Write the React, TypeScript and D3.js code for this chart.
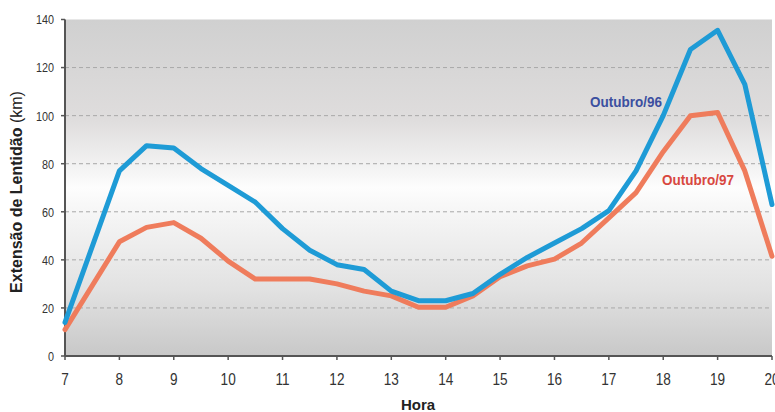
import React from "react";
import * as d3 from "d3";

// Hourly congestion length (km), sampled every half hour
const hours = [7, 8, 8.5, 9, 9.5, 10, 10.5, 11, 11.5, 12, 12.5, 13, 13.5, 14, 14.5, 15, 15.5, 16, 16.5, 17, 17.5, 18, 18.5, 19, 19.5, 20];
const outubro96 = [14, 77, 87.5, 86.5, 78, 71, 64, 53, 44, 38, 36, 27, 23, 23, 26, 34, 41, 47, 53, 60.5, 77, 100, 127.5, 135.5, 113, 63];
const outubro97 = [11, 47.5, 53.5, 55.5, 49, 39.5, 32, 32, 32, 30, 27, 25, 20.3, 20.3, 25, 33, 37.5, 40.3, 47, 57.5, 68, 85, 100, 101.3, 77, 41.5];
const xTicks = [7, 8, 9, 10, 11, 12, 13, 14, 15, 16, 17, 18, 19, 20];
const yTicks = [0, 20, 40, 60, 80, 100, 120, 140];
const gridValues = [20, 40, 60, 80, 100, 120];

const W = 775;
const H = 412;
const left = 65;
const right = 772;
const top = 19.5;
const bottom = 356;

const sans = "'Liberation Sans', Arial, sans-serif";

// Condensed text: regular sans squeezed horizontally around its anchor point
function NarrowText(props: {
  x: number;
  y: number;
  sx: number;
  size: number;
  anchor?: "start" | "middle" | "end";
  weight?: string;
  fill: string;
  dy?: string;
  children: React.ReactNode;
}) {
  const { x, y, sx, size, anchor = "start", weight = "normal", fill, dy, children } = props;
  return (
    <text
      transform={`translate(${x},${y}) scale(${sx},1)`}
      textAnchor={anchor}
      dy={dy}
      fontFamily={sans}
      fontSize={size}
      fontWeight={weight}
      fill={fill}
    >
      {children}
    </text>
  );
}

export default function App() {
  const x = d3.scaleLinear().domain([7, 20]).range([left, right]);
  const y = d3.scaleLinear().domain([0, 140]).range([bottom, top]);

  const line = d3
    .line<number>()
    .x((_, i) => x(hours[i]))
    .y((v) => y(v))
    .curve(d3.curveLinear);

  return (
    <svg
      width={W}
      height={H}
      style={{ position: "absolute", left: 0, top: 0, display: "block", background: "#ffffff" }}
    >
      <defs>
        <linearGradient id="plotBg" x1="0" y1="0" x2="0" y2="1">
          <stop offset="0%" stopColor="#d0d0d0" />
          <stop offset="30%" stopColor="#dfdddd" />
          <stop offset="46%" stopColor="#f6f6f6" />
          <stop offset="50%" stopColor="#fdfdfd" />
          <stop offset="56%" stopColor="#f7f7f7" />
          <stop offset="80%" stopColor="#e2e2e2" />
          <stop offset="100%" stopColor="#c8c8c8" />
        </linearGradient>
      </defs>

      <rect x={left} y={top} width={right - left} height={bottom - top} fill="url(#plotBg)" />

      {gridValues.map((g) => (
        <line
          key={g}
          x1={left}
          x2={right}
          y1={y(g)}
          y2={y(g)}
          stroke="#a8a8a8"
          strokeWidth={1}
          strokeDasharray="4,3"
        />
      ))}

      {/* axes */}
      <line x1={left} x2={left} y1={top} y2={bottom} stroke="#555" strokeWidth={2} />
      <line x1={left} x2={right} y1={bottom} y2={bottom} stroke="#555" strokeWidth={2} />

      {yTicks.map((t) => (
        <g key={t}>
          <line x1={left - 4} x2={left} y1={y(t)} y2={y(t)} stroke="#555" strokeWidth={1.5} />
          <NarrowText x={left - 11} y={y(t)} dy="0.36em" sx={0.8} size={13.5} anchor="end" fill="#333">
            {t}
          </NarrowText>
        </g>
      ))}

      {xTicks.map((t) => (
        <g key={t}>
          <line x1={x(t)} x2={x(t)} y1={bottom} y2={bottom + 4} stroke="#555" strokeWidth={1.5} />
          <NarrowText x={x(t)} y={385} sx={0.85} size={16} anchor="middle" fill="#333">
            {t}
          </NarrowText>
        </g>
      ))}

      <path d={line(outubro97) ?? ""} fill="none" stroke="#ef7c5c" strokeWidth={5} strokeLinejoin="round" strokeLinecap="round" />
      <path d={line(outubro96) ?? ""} fill="none" stroke="#1e9bd6" strokeWidth={5} strokeLinejoin="round" strokeLinecap="round" />

      <NarrowText x={590} y={107} sx={0.9} size={15} weight="bold" fill="#3b4fa0">
        Outubro/96
      </NarrowText>
      <NarrowText x={662} y={185} sx={0.9} size={15} weight="bold" fill="#d8473f">
        Outubro/97
      </NarrowText>

      <text
        transform={`translate(22, 192) rotate(-90)`}
        textAnchor="middle"
        fontFamily={sans}
        fontSize={16}
        fill="#222"
      >
        <tspan fontWeight="bold">Extensão de Lentidão</tspan>
        <tspan> (km)</tspan>
      </text>

      <text x={418} y={410} textAnchor="middle" fontFamily={sans} fontWeight="bold" fontSize={15} fill="#222">
        Hora
      </text>
    </svg>
  );
}
